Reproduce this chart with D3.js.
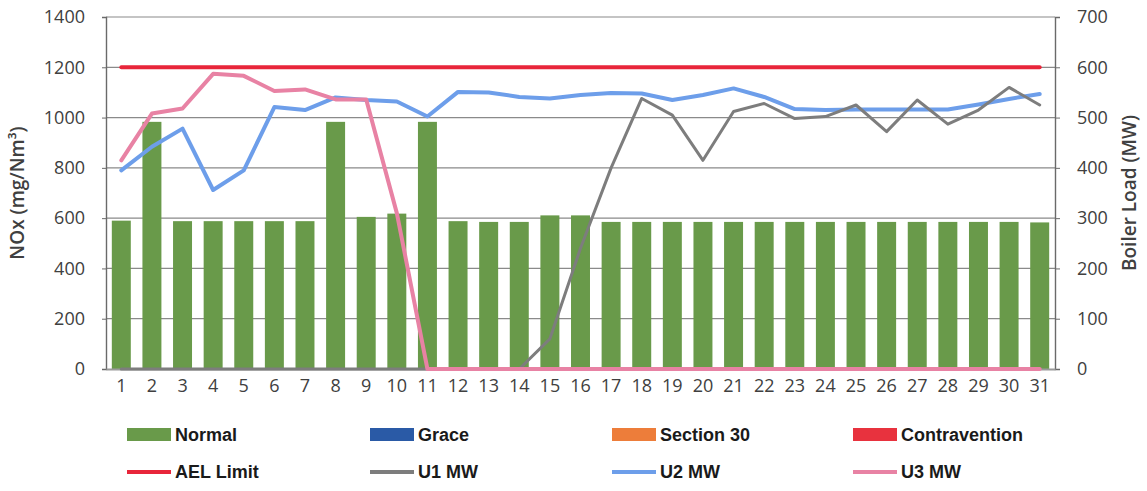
<!DOCTYPE html>
<html>
<head>
<meta charset="utf-8">
<script src="https://cdn.jsdelivr.net/npm/d3@7"></script>
<style>
  html, body { margin: 0; padding: 0; background: #fff; }
  svg { display: block; }
  text { font-family: "Open Sans", "Liberation Sans", sans-serif; }
</style>
</head>
<body>
<svg id="chart" width="1147" height="491"></svg>
<script>
// ---- data ----
const days = [1,2,3,4,5,6,7,8,9,10,11,12,13,14,15,16,17,18,19,20,21,22,23,24,25,26,27,28,29,30,31];
const normalNOx = [590,983,588,588,588,588,588,983,605,618,983,588,585,585,611,611,585,585,585,585,585,585,585,585,585,585,585,585,585,585,583];
const graceNOx = [0,0,0,0,0,0,0,0,0,0,0,0,0,0,0,0,0,0,0,0,0,0,0,0,0,0,0,0,0,0,0];
const section30NOx = [0,0,0,0,0,0,0,0,0,0,0,0,0,0,0,0,0,0,0,0,0,0,0,0,0,0,0,0,0,0,0];
const contraventionNOx = [0,0,0,0,0,0,0,0,0,0,0,0,0,0,0,0,0,0,0,0,0,0,0,0,0,0,0,0,0,0,0];
const aelLimit = [1200,1200,1200,1200,1200,1200,1200,1200,1200,1200,1200,1200,1200,1200,1200,1200,1200,1200,1200,1200,1200,1200,1200,1200,1200,1200,1200,1200,1200,1200,1200];
const u1MW = [0,0,0,0,0,0,0,0,0,0,0,0,0,0,60,240,400,538,505,415,512,528,498,502,525,472,535,487,515,560,525];
const u2MW = [395,442,478,356,395,521,515,540,535,532,502,551,550,541,538,545,549,548,535,545,558,541,517,515,516,516,516,516,526,537,547];
const u3MW = [415,508,518,587,583,553,556,536,536,310,0,0,0,0,0,0,0,0,0,0,0,0,0,0,0,0,0,0,0,0,0];
const leftTicks = [0,200,400,600,800,1000,1200,1400];
const rightTicks = [0,100,200,300,400,500,600,700];
const leftTitle = "NOx (mg/Nm³)";
const rightTitle = "Boiler Load (MW)";
const barSeries = [
  {name: "Normal", values: normalNOx, color: "#699a4a"},
  {name: "Grace", values: graceNOx, color: "#2a5aa6"},
  {name: "Section 30", values: section30NOx, color: "#ed7d3a"},
  {name: "Contravention", values: contraventionNOx, color: "#e8323e"}
];
const lineSeries = [
  {name: "AEL Limit", values: aelLimit, color: "#e8253a", width: 4, axis: "left", z: 0},
  {name: "U1 MW", values: u1MW, color: "#7d7d7d", width: 3, axis: "right", z: 2},
  {name: "U2 MW", values: u2MW, color: "#6d9eea", width: 4, axis: "right", z: 1},
  {name: "U3 MW", values: u3MW, color: "#e882a4", width: 4, axis: "right", z: 3}
];

// ---- layout ----
const svg = d3.select("#chart");
const L = 106, R = 1055, T = 17, B = 369;
const tickColor = "#404040";

const x = d3.scaleBand().domain(days).range([L, R]).paddingInner(0.38).paddingOuter(0.19);
const yL = d3.scaleLinear().domain([0, 1400]).range([B, T]);
const yR = d3.scaleLinear().domain([0, 700]).range([B, T]);
const cx = d => x(d) + x.bandwidth() / 2;

// gridlines
svg.append("g").selectAll("line").data(leftTicks.filter(t => t > 0)).join("line")
  .attr("x1", L).attr("x2", R).attr("y1", d => yL(d)).attr("y2", d => yL(d))
  .attr("stroke", "#8a8a8a").attr("stroke-width", 1.2);

// stacked bars
const stackData = days.map((d, i) => {
  const o = {day: d};
  barSeries.forEach(s => o[s.name] = s.values[i]);
  return o;
});
const stack = d3.stack().keys(barSeries.map(s => s.name))(stackData);
stack.forEach((layer, li) => {
  svg.append("g").selectAll("rect").data(layer.filter(p => p[1] - p[0] > 0)).join("rect")
    .attr("x", p => x(p.data.day)).attr("width", x.bandwidth())
    .attr("y", p => yL(p[1])).attr("height", p => yL(p[0]) - yL(p[1]))
    .attr("fill", barSeries[li].color);
});

// axes
const axL = svg.append("g").attr("transform", `translate(${L},0)`)
  .call(d3.axisLeft(yL).tickValues(leftTicks).tickFormat(d3.format("d")).tickSize(4).tickPadding(17));
const axR = svg.append("g").attr("transform", `translate(${R},0)`)
  .call(d3.axisRight(yR).tickValues(rightTicks).tickFormat(d3.format("d")).tickSize(5).tickPadding(17));
const axB = svg.append("g").attr("transform", `translate(0,${B})`)
  .call(d3.axisBottom(x).tickSize(0).tickPadding(10));
[axL, axR, axB].forEach(a => {
  a.select(".domain").attr("stroke", "#6a6a6a").attr("stroke-width", 1.4);
  a.selectAll(".tick line").attr("stroke", "#6a6a6a");
  a.selectAll("text").attr("fill", tickColor).style("font-size", "18px")
    .style("font-family", "'Open Sans', sans-serif");
});
axB.select(".domain").attr("stroke", "#9a9a9a").attr("stroke-width", 2);

// lines (drawing order: AEL, U2, U1, U3)
lineSeries.slice().sort((a, b) => a.z - b.z).forEach(s => {
  const ys = s.axis === "left" ? yL : yR;
  const line = d3.line().x((v, i) => cx(days[i])).y(v => ys(v));
  svg.append("path").datum(s.values).attr("d", line)
    .attr("fill", "none").attr("stroke", s.color).attr("stroke-width", s.width)
    .attr("stroke-linejoin", "round").attr("stroke-linecap", "round");
});

// axis titles
svg.append("text").attr("transform", `translate(24,${(T + B) / 2}) rotate(-90)`)
  .attr("text-anchor", "middle").attr("fill", tickColor)
  .style("font-size", "19px").style("font-weight", "600").text(leftTitle);
svg.append("text").attr("transform", `translate(1136,${(T + B) / 2}) rotate(-90)`)
  .attr("text-anchor", "middle").attr("fill", tickColor)
  .style("font-size", "19px").style("font-weight", "600").text(rightTitle);

// legend
const colX = [127, 370, 612, 853];
const lg = svg.append("g");
barSeries.forEach((s, i) => {
  lg.append("rect").attr("x", colX[i]).attr("y", 428).attr("width", 44).attr("height", 13).attr("fill", s.color);
  lg.append("text").attr("x", colX[i] + 48).attr("y", 441).attr("fill", "#1a1a1a")
    .style("font-size", "18px").style("font-weight", "bold")
    .style("font-family", "'Liberation Sans', sans-serif").text(s.name);
});
lineSeries.forEach((s, i) => {
  lg.append("line").attr("x1", colX[i]).attr("x2", colX[i] + 44).attr("y1", 472).attr("y2", 472)
    .attr("stroke", s.color).attr("stroke-width", 4);
  lg.append("text").attr("x", colX[i] + 48).attr("y", 478).attr("fill", "#1a1a1a")
    .style("font-size", "18px").style("font-weight", "bold")
    .style("font-family", "'Liberation Sans', sans-serif").text(s.name);
});
</script>
</body>
</html>
